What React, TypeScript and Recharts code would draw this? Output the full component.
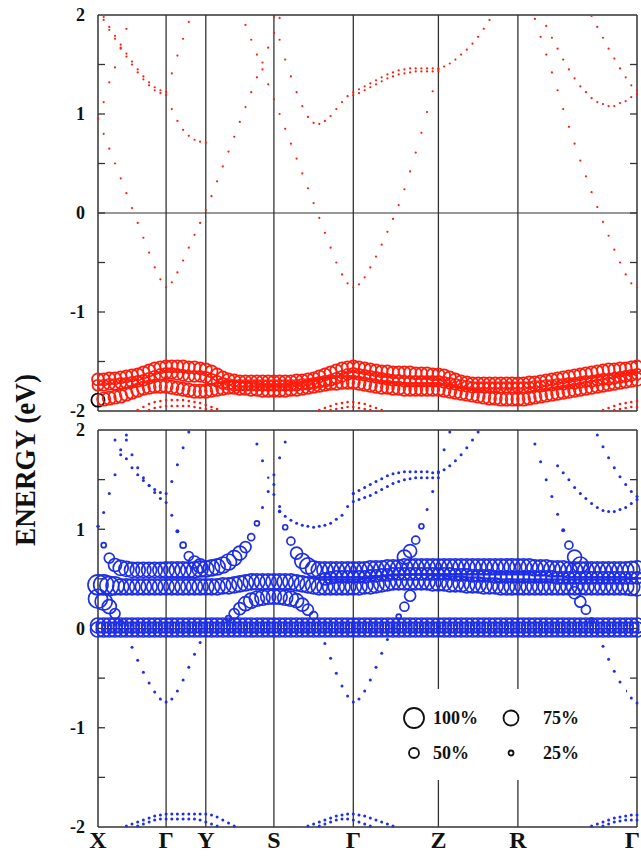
import React from "react";
import { ScatterChart, Scatter, XAxis, YAxis, ReferenceLine } from "recharts";

// k-path distance of each computed k-point (96 points, X -> Γ -> Y -> S -> Γ -> Z -> R -> Γ)
const K_PATH = [
  0, 0.057, 0.113, 0.17, 0.227, 0.284, 0.34, 0.397, 0.454, 0.511, 0.567, 0.624,
  0.681, 0.738, 0.794, 0.851, 0.908, 0.965, 1.021, 1.078,
  1.135, 1.191, 1.248, 1.305, 1.362, 1.418, 1.475, 1.532, 1.589, 1.645, 1.702, 1.759,
  1.816, 1.872, 1.929, 1.986, 2.043, 2.099, 2.156, 2.213, 2.269, 2.326, 2.383, 2.44, 2.496, 2.553,
  2.61, 2.667, 2.723, 2.78, 2.837, 2.894, 2.95, 3.007, 3.064, 3.121, 3.177, 3.234, 3.291, 3.347, 3.404,
  3.461, 3.518, 3.574, 3.631, 3.688, 3.745, 3.801, 3.858, 3.915, 3.972, 4.028, 4.085, 4.142, 4.199,
  4.255, 4.312, 4.369, 4.426, 4.482, 4.539, 4.596, 4.652, 4.709, 4.766, 4.823, 4.879, 4.936, 4.993,
  5.05, 5.106, 5.163, 5.22, 5.277, 5.333, 5.39,
];
const SYM_K = [0, 0.681, 1.078, 1.759, 2.553, 3.404, 4.199, 5.39];
const SYM_LABELS = ["X", "Γ", "Y", "S", "Γ", "Z", "R", "Γ"];
const E_TICKS = [-2, -1, 0, 1, 2];
const E_MINOR = [-1.5, -1, -0.5, 0, 0.5, 1, 1.5];
const LEGEND_ITEMS = [
  { w: 100, label: "100%" },
  { w: 75, label: "75%" },
  { w: 50, label: "50%" },
  { w: 25, label: "25%" },
];

type Band = { id: string; start: number; e: number[]; w: number | number[] };

// ---------- upper panel (red) ----------
const RED_BANDS: Band[] = [
  { id: "RF1", start: 0, w: 60, e: [
    -1.68, -1.68, -1.67, -1.67, -1.66, -1.65, -1.64, -1.63, -1.61, -1.59, -1.57, -1.56,
    -1.55, -1.55, -1.55, -1.55, -1.56, -1.56, -1.57, -1.58,
    -1.6, -1.63, -1.66, -1.68, -1.69, -1.7, -1.7, -1.7, -1.7, -1.7, -1.7, -1.7,
    -1.7, -1.7, -1.7, -1.69, -1.69, -1.68, -1.67, -1.65, -1.63, -1.61, -1.59, -1.57, -1.56, -1.55,
    -1.56, -1.57, -1.58, -1.59, -1.6, -1.6, -1.61, -1.61, -1.61, -1.61, -1.62, -1.62, -1.62, -1.63, -1.63,
    -1.64, -1.66, -1.68, -1.7, -1.71, -1.72, -1.72, -1.72, -1.72, -1.72, -1.72, -1.72, -1.72, -1.72,
    -1.72, -1.71, -1.71, -1.7, -1.69, -1.68, -1.67, -1.66, -1.65, -1.64, -1.63, -1.62, -1.61, -1.6, -1.59, -1.58, -1.58, -1.57, -1.57, -1.56, -1.55,
  ] },
  { id: "RF2", start: 0, w: 55, e: [
    -1.74, -1.74, -1.73, -1.73, -1.72, -1.72, -1.71, -1.7, -1.69, -1.67, -1.65, -1.63,
    -1.62, -1.62, -1.63, -1.64, -1.65, -1.65, -1.65, -1.66,
    -1.68, -1.7, -1.72, -1.73, -1.74, -1.74, -1.74, -1.74, -1.74, -1.74, -1.74, -1.74,
    -1.74, -1.74, -1.74, -1.74, -1.73, -1.73, -1.72, -1.71, -1.7, -1.69, -1.67, -1.65, -1.63, -1.62,
    -1.63, -1.64, -1.65, -1.66, -1.67, -1.68, -1.69, -1.69, -1.7, -1.7, -1.7, -1.7, -1.7, -1.7, -1.7,
    -1.71, -1.72, -1.73, -1.74, -1.75, -1.76, -1.76, -1.76, -1.76, -1.76, -1.76, -1.76, -1.76, -1.76,
    -1.76, -1.76, -1.75, -1.75, -1.74, -1.74, -1.73, -1.73, -1.72, -1.72, -1.71, -1.7, -1.7, -1.69, -1.68, -1.68, -1.67, -1.66, -1.65, -1.64, -1.63,
  ] },
  { id: "RF3", start: 0, w: 66, e: [
    -1.89, -1.88, -1.87, -1.86, -1.85, -1.83, -1.81, -1.79, -1.77, -1.76, -1.75, -1.75,
    -1.75, -1.76, -1.77, -1.78, -1.79, -1.8, -1.8, -1.8,
    -1.79, -1.78, -1.77, -1.76, -1.76, -1.77, -1.77, -1.78, -1.78, -1.79, -1.79, -1.79,
    -1.79, -1.79, -1.78, -1.78, -1.77, -1.76, -1.75, -1.74, -1.73, -1.72, -1.72, -1.71, -1.71, -1.71,
    -1.72, -1.73, -1.74, -1.75, -1.76, -1.76, -1.77, -1.77, -1.78, -1.78, -1.78, -1.78, -1.78, -1.78, -1.78,
    -1.79, -1.8, -1.81, -1.82, -1.83, -1.84, -1.85, -1.86, -1.87, -1.87, -1.88, -1.88, -1.88, -1.88,
    -1.88, -1.87, -1.86, -1.85, -1.84, -1.83, -1.82, -1.81, -1.8, -1.79, -1.78, -1.77, -1.76, -1.75, -1.74, -1.73, -1.72, -1.71, -1.7, -1.69, -1.68,
  ] },
  { id: "T_A1", start: 1, w: 11, e: [1.98, 1.88, 1.79, 1.7, 1.61, 1.53, 1.45, 1.38, 1.32, 1.27, 1.24, 1.22, 1.41, 1.59, 1.76, 1.93] },
  { id: "T_A2", start: 1, w: 11, e: [1.95, 1.85, 1.76, 1.67, 1.58, 1.5, 1.42, 1.35, 1.29, 1.24, 1.21, 1.19, 1.05, 0.93, 0.84, 0.78, 0.74, 0.72, 0.71] },
  { id: "T_B", start: 0, w: 11, e: [0.95, 1.12, 1.32, 1.47, 1.66, 1.86] },
  { id: "T_C", start: 0, w: 11, e: [
    0.95, 0.8, 0.65, 0.5, 0.35, 0.2, 0.05, -0.1, -0.25, -0.4, -0.55, -0.67, -0.75,
    -0.7, -0.6, -0.48, -0.35, -0.22, -0.1, 0.03, 0.17, 0.32, 0.47, 0.62, 0.77, 0.92, 1.07, 1.22, 1.37, 1.52, 1.67, 1.82, 1.97,
  ] },
  { id: "T_D", start: 26, w: 11, e: [
    1.9, 1.75, 1.6, 1.45, 1.3, 1.15, 1.0, 0.85, 0.7, 0.55, 0.4, 0.25, 0.1, -0.05, -0.2, -0.35, -0.5, -0.62, -0.71, -0.75,
    -0.72, -0.65, -0.55, -0.44, -0.32, -0.19, -0.06, 0.08, 0.24, 0.42, 0.61, 0.81, 1.02, 1.23, 1.45,
    1.48, 1.51, 1.55, 1.6, 1.65, 1.71, 1.78, 1.86, 1.95,
  ] },
  { id: "T_F", start: 31, w: 11, e: [
    1.98, 1.75, 1.55, 1.38, 1.22, 1.08, 0.97, 0.91, 0.9, 0.93, 0.98, 1.05, 1.12, 1.18, 1.22,
    1.25, 1.28, 1.31, 1.34, 1.37, 1.4, 1.42, 1.44, 1.45, 1.46, 1.46, 1.46, 1.46, 1.46, 1.46,
  ] },
  { id: "T_E2", start: 45, w: 11, e: [1.19, 1.21, 1.24, 1.27, 1.3, 1.33, 1.36, 1.38, 1.4, 1.41, 1.42, 1.43, 1.43, 1.43, 1.43, 1.43] },
  { id: "T_H", start: 77, w: 11, e: [1.96, 1.78, 1.6, 1.42, 1.24, 1.05, 0.87, 0.7, 0.53, 0.37, 0.21, 0.06, -0.09, -0.23, -0.37, -0.5, -0.62, -0.71, -0.75] },
  { id: "T_I", start: 79, w: 11, e: [1.89, 1.77, 1.66, 1.55, 1.45, 1.36, 1.28, 1.22, 1.16, 1.12, 1.1, 1.08, 1.08, 1.11, 1.13, 1.17, 1.2] },
  { id: "T_J", start: 87, w: 11, e: [1.99, 1.88, 1.77, 1.66, 1.56, 1.46, 1.37, 1.29, 1.24] },
  { id: "H1a", start: 7, w: 13, e: [-1.99, -1.96, -1.93, -1.91, -1.9, -1.89, -1.89, -1.89, -1.89, -1.9, -1.91, -1.92, -1.94, -1.96, -1.98] },
  { id: "H1b", start: 9, w: 13, e: [-1.99, -1.97, -1.96, -1.95, -1.95, -1.95, -1.95, -1.95, -1.96, -1.97, -1.98, -1.99] },
  { id: "H2a", start: 39, w: 13, e: [-1.99, -1.97, -1.95, -1.93, -1.92, -1.91, -1.91, -1.92, -1.93, -1.95, -1.97, -1.99] },
  { id: "H2b", start: 41, w: 13, e: [-1.99, -1.98, -1.97, -1.96, -1.96, -1.97, -1.98, -1.99] },
  { id: "H3a", start: 89, w: 13, e: [-1.99, -1.97, -1.95, -1.93, -1.92, -1.91, -1.9] },
  { id: "H3b", start: 91, w: 13, e: [-1.99, -1.98, -1.97, -1.96, -1.96] },
];

// ---------- lower panel (blue) ----------
const BLUE_BANDS: Band[] = [
  { id: "B_0a", start: 0, w: 75, e: [
    0.03, 0.03, 0.03, 0.03, 0.03, 0.03, 0.03, 0.03, 0.03, 0.03, 0.03, 0.03,
    0.03, 0.03, 0.03, 0.03, 0.03, 0.03, 0.03, 0.03,
    0.03, 0.03, 0.03, 0.03, 0.03, 0.03, 0.03, 0.03, 0.03, 0.03, 0.03, 0.03,
    0.03, 0.03, 0.03, 0.03, 0.03, 0.03, 0.03, 0.03, 0.03, 0.03, 0.03, 0.03, 0.03, 0.03,
    0.03, 0.03, 0.03, 0.03, 0.03, 0.03, 0.03, 0.03, 0.03, 0.03, 0.03, 0.03, 0.03, 0.03, 0.03,
    0.03, 0.03, 0.03, 0.03, 0.03, 0.03, 0.03, 0.03, 0.03, 0.03, 0.03, 0.03, 0.03, 0.03,
    0.03, 0.03, 0.03, 0.03, 0.03, 0.03, 0.03, 0.03, 0.03, 0.03, 0.03, 0.03, 0.03, 0.03, 0.03, 0.03, 0.03, 0.03, 0.03, 0.03, 0.03,
  ] },
  { id: "B_0b", start: 0, w: 75, e: [
    -0.01, -0.01, -0.01, -0.01, -0.01, -0.01, -0.01, -0.01, -0.01, -0.01, -0.01, -0.01,
    -0.01, -0.01, -0.01, -0.01, -0.01, -0.01, -0.01, -0.01,
    -0.01, -0.01, -0.01, -0.01, -0.01, -0.01, -0.01, -0.01, -0.01, -0.01, -0.01, -0.01,
    -0.01, -0.01, -0.01, -0.01, -0.01, -0.01, -0.01, -0.01, -0.01, -0.01, -0.01, -0.01, -0.01, -0.01,
    -0.01, -0.01, -0.01, -0.01, -0.01, -0.01, -0.01, -0.01, -0.01, -0.01, -0.01, -0.01, -0.01, -0.01, -0.01,
    -0.01, -0.01, -0.01, -0.01, -0.01, -0.01, -0.01, -0.01, -0.01, -0.01, -0.01, -0.01, -0.01, -0.01,
    -0.01, -0.01, -0.01, -0.01, -0.01, -0.01, -0.01, -0.01, -0.01, -0.01, -0.01, -0.01, -0.01, -0.01, -0.01, -0.01, -0.01, -0.01, -0.01, -0.01, -0.01,
  ] },
  { id: "B_L", start: 0, e: [
    0.44, 0.44, 0.43, 0.43, 0.42, 0.42, 0.42, 0.42, 0.42, 0.42, 0.42, 0.42,
    0.42, 0.42, 0.42, 0.42, 0.42, 0.42, 0.42, 0.42,
    0.42, 0.42, 0.43, 0.43, 0.44, 0.45, 0.46, 0.47, 0.47, 0.47, 0.47, 0.47,
    0.47, 0.47, 0.47, 0.46, 0.45, 0.44, 0.43, 0.42, 0.42, 0.42, 0.42, 0.42, 0.42, 0.42,
    0.42, 0.43, 0.43, 0.44, 0.45, 0.46, 0.47, 0.47, 0.47, 0.47, 0.47, 0.47, 0.47, 0.46, 0.46,
    0.46, 0.45, 0.45, 0.45, 0.44, 0.44, 0.44, 0.43, 0.43, 0.43, 0.42, 0.42, 0.42, 0.42,
    0.42, 0.42, 0.42, 0.42, 0.42, 0.42, 0.42, 0.42, 0.42, 0.42, 0.42, 0.42, 0.42, 0.42, 0.42, 0.42, 0.42, 0.42, 0.42, 0.42, 0.42,
  ], w: [
    100, 100, 95, 90, 80, 80, 80, 80, 80, 80, 80, 80,
    80, 80, 80, 80, 80, 80, 80, 80,
    80, 80, 80, 80, 80, 80, 80, 80, 80, 80, 80, 80,
    80, 80, 80, 80, 80, 80, 80, 80, 80, 80, 80, 80, 80, 80,
    80, 80, 80, 80, 80, 80, 80, 80, 80, 80, 80, 80, 80, 80, 80,
    80, 80, 80, 80, 80, 80, 80, 80, 80, 80, 80, 80, 80, 80,
    80, 80, 80, 80, 80, 80, 80, 80, 80, 80, 80, 80, 80, 80, 80, 80, 80, 80, 80, 85, 90,
  ] },
  { id: "B_M", start: 40, w: 60, e: [
    0.5, 0.51, 0.52, 0.52, 0.52, 0.52,
    0.52, 0.52, 0.53, 0.53, 0.54, 0.54, 0.55, 0.55, 0.55, 0.55, 0.55, 0.55, 0.55, 0.55, 0.55,
    0.55, 0.55, 0.54, 0.54, 0.54, 0.53, 0.53, 0.53, 0.53, 0.52, 0.52, 0.52, 0.52, 0.52,
    0.52, 0.52, 0.52, 0.52, 0.52, 0.52, 0.51, 0.51, 0.51, 0.51, 0.51, 0.51, 0.51, 0.51, 0.51, 0.51, 0.51, 0.51, 0.51, 0.51, 0.51,
  ] },
  { id: "B_X", start: 0, e: [
    1.03, 0.84, 0.71, 0.64, 0.61, 0.6, 0.59, 0.59, 0.59, 0.59, 0.59, 0.59,
    0.59, 0.59, 0.59, 0.59, 0.59, 0.59, 0.6, 0.6,
    0.61, 0.62, 0.64, 0.67, 0.71, 0.76, 0.82, 0.92, 1.06, 1.22, 1.38, 1.55, 1.72, 1.88,
  ], w: [
    15, 25, 50, 65, 75, 75, 75, 75, 75, 75, 75, 75,
    80, 80, 80, 80, 80, 80, 80, 80,
    80, 80, 80, 80, 75, 70, 55, 35, 25, 15, 15, 15, 15, 15,
  ] },
  { id: "B_U2", start: 28, e: [
    1.86, 1.69,
    1.52, 1.35, 1.18, 1.02, 0.88, 0.76, 0.68, 0.63, 0.6, 0.59, 0.59, 0.59, 0.59, 0.59, 0.59, 0.59,
    0.59, 0.59, 0.6, 0.6, 0.6, 0.61, 0.61, 0.61, 0.62, 0.62, 0.62, 0.62, 0.62, 0.62, 0.62,
    0.62, 0.62, 0.62, 0.62, 0.62, 0.62, 0.62, 0.62, 0.62, 0.62, 0.62, 0.62, 0.62, 0.62,
    0.62, 0.62, 0.61, 0.61, 0.61, 0.6, 0.6, 0.6, 0.59, 0.59, 0.59, 0.59, 0.59, 0.59, 0.59, 0.59, 0.59, 0.59, 0.59, 0.59, 0.59,
  ], w: [
    15, 15,
    12, 15, 18, 25, 40, 60, 75, 80, 80, 80, 80, 80, 80, 80, 80, 80,
    80, 80, 80, 80, 80, 80, 80, 80, 80, 80, 80, 80, 80, 80, 80,
    80, 80, 80, 80, 80, 80, 80, 80, 80, 80, 80, 80, 80, 80,
    80, 80, 80, 80, 80, 80, 80, 80, 80, 80, 80, 80, 80, 80, 80, 80, 80, 80, 80, 85, 90,
  ] },
  { id: "B_U", start: 5, e: [1.9, 1.75, 1.62, 1.52, 1.44, 1.37, 1.31, 1.27, 1.14, 0.98, 0.84, 0.73, 0.67, 0.63],
    w: [15, 15, 15, 15, 15, 15, 15, 15, 15, 20, 30, 45, 60, 70] },
  { id: "B_G1", start: 0, e: [
    0.3, 0.27, 0.22, 0.15, 0.06, -0.06, -0.19, -0.32, -0.44, -0.55, -0.64, -0.71, -0.74,
    -0.71, -0.63, -0.52, -0.39, -0.26, -0.14, -0.04,
  ], w: [95, 85, 70, 50, 25, 15, 15, 15, 15, 15, 15, 15, 15, 15, 15, 15, 15, 15, 15, 15] },
  { id: "B_arc", start: 23, e: [0.1, 0.15, 0.2, 0.25, 0.28, 0.3, 0.31, 0.32, 0.32, 0.32, 0.31, 0.3, 0.28, 0.24, 0.19, 0.13],
    w: [30, 50, 60, 70, 75, 75, 75, 75, 75, 75, 75, 75, 70, 65, 55, 40] },
  { id: "B_G2", start: 39, e: [-0.01, -0.15, -0.3, -0.45, -0.58, -0.68, -0.74, -0.71, -0.63, -0.52, -0.39, -0.25, -0.11, 0.02, 0.12, 0.22, 0.33],
    w: [15, 15, 15, 15, 15, 15, 15, 15, 15, 15, 15, 15, 15, 15, 25, 45, 55] },
  { id: "B_G2up", start: 54, e: [0.72, 0.78, 0.89, 1.03, 1.2, 1.38, 1.58, 1.8, 1.98], w: [70, 65, 40, 25, 15, 15, 15, 15, 15] },
  { id: "B_US", start: 31, w: 15, e: [1.45, 1.23, 1.13, 1.09, 1.06, 1.04, 1.03, 1.02, 1.03, 1.04, 1.06, 1.1, 1.14, 1.23, 1.36] },
  { id: "B_E", start: 45, w: 15, e: [1.36, 1.39, 1.42, 1.45, 1.48, 1.51, 1.54, 1.56, 1.57, 1.58, 1.58, 1.58, 1.58, 1.58, 1.57, 1.57, 1.6, 1.64, 1.69, 1.75, 1.82, 1.9, 1.98] },
  { id: "B_E2", start: 45, w: 15, e: [1.28, 1.3, 1.32, 1.34, 1.37, 1.4, 1.43, 1.46, 1.48, 1.5, 1.51, 1.52, 1.52, 1.52, 1.52, 1.52] },
  { id: "B_A", start: 3, w: 15, e: [1.9, 1.8, 1.71, 1.62, 1.55, 1.49, 1.44, 1.4, 1.37, 1.36, 1.48, 1.65, 1.82, 1.98] },
  { id: "B_SX", start: 0, w: 15, e: [1.03, 1.17, 1.36, 1.55, 1.75, 1.95] },
  { id: "B_G3up", start: 77, e: [1.86, 1.68, 1.5, 1.33, 1.15, 0.99, 0.84, 0.72, 0.64], w: [15, 15, 15, 15, 15, 20, 40, 70, 80] },
  { id: "B_G3low", start: 84, e: [0.36, 0.27, 0.19, 0.08, -0.05, -0.18, -0.31, -0.43, -0.54, -0.63, -0.7, -0.75],
    w: [60, 55, 45, 25, 15, 15, 15, 15, 15, 15, 15, 15] },
  { id: "B_I", start: 81, w: 15, e: [1.64, 1.57, 1.5, 1.42, 1.36, 1.31, 1.26, 1.22, 1.19, 1.18, 1.18, 1.2, 1.22, 1.26, 1.3] },
  { id: "B_J", start: 88, w: 15, e: [1.95, 1.83, 1.72, 1.62, 1.53, 1.45, 1.38, 1.33] },
  { id: "B_H1a", start: 5, w: 15, e: [-1.99, -1.97, -1.95, -1.93, -1.91, -1.89, -1.88, -1.87, -1.87, -1.87, -1.87, -1.87, -1.87, -1.87, -1.87, -1.88, -1.9, -1.93, -1.96, -1.99] },
  { id: "B_H1b", start: 7, w: 15, e: [-1.99, -1.97, -1.95, -1.93, -1.92, -1.92, -1.92, -1.92, -1.92, -1.92, -1.92, -1.93, -1.95, -1.97, -1.99] },
  { id: "B_H2a", start: 37, w: 15, e: [-1.99, -1.97, -1.95, -1.93, -1.91, -1.89, -1.88, -1.87, -1.87, -1.88, -1.89, -1.91, -1.93, -1.95, -1.97, -1.99] },
  { id: "B_H2b", start: 39, w: 15, e: [-1.99, -1.97, -1.95, -1.93, -1.92, -1.92, -1.93, -1.95, -1.97, -1.99] },
  { id: "B_H3a", start: 87, w: 15, e: [-1.99, -1.97, -1.95, -1.93, -1.91, -1.9, -1.89, -1.88, -1.88] },
  { id: "B_H3b", start: 89, w: 15, e: [-1.99, -1.97, -1.95, -1.94, -1.93, -1.93, -1.93] },
];

const RED = "#ff1c0c";
const BLUE = "#1e2ee4";
const FRAME = "#333";
const FONT = "'Liberation Serif', 'Times New Roman', serif";

function toPoints(b: Band) {
  return b.e.map((e, i) => ({
    k: K_PATH[b.start + i],
    e,
    w: Array.isArray(b.w) ? b.w[i] : b.w,
    idx: b.start + i,
  }));
}

const makeShape = (color: string, id: string) => (props: any) => {
  const { cx, cy, payload } = props;
  if (cx == null || cy == null) return <g />;
  const r = payload.w / 10;
  if (r < 2.2) return <circle cx={cx} cy={cy} r={r} fill={color} />;
  const stroke = id === "RF3" && payload.idx === 0 ? "#000" : color;
  return <circle cx={cx} cy={cy} r={r} fill="none" stroke={stroke} strokeWidth={1.7} />;
};

function frameLines() {
  const out: React.ReactNode[] = [];
  SYM_K.slice(1, -1).forEach((k, i) => out.push(
    <ReferenceLine key={"v" + i} x={k} stroke={FRAME} strokeWidth={1.3} />
  ));
  out.push(<ReferenceLine key="top" y={2} stroke={FRAME} strokeWidth={1.5} />);
  out.push(<ReferenceLine key="right" x={5.39} stroke={FRAME} strokeWidth={1.5} />);
  E_MINOR.forEach((v, i) => {
    out.push(<ReferenceLine key={"tl" + i} segment={[{ x: 0, y: v }, { x: 0.07, y: v }]} stroke={FRAME} strokeWidth={1.3} />);
    out.push(<ReferenceLine key={"tr" + i} segment={[{ x: 5.32, y: v }, { x: 5.39, y: v }]} stroke={FRAME} strokeWidth={1.3} />);
  });
  return out;
}

const tickStyle = { fontFamily: FONT, fontWeight: 700, fontSize: 18, fill: "#111" };

const KTick = (props: any) => {
  const { x, y, payload } = props;
  const i = SYM_K.indexOf(payload.value);
  const label = SYM_LABELS[i] ?? "";
  const last = i === SYM_K.length - 1;
  return (
    <text x={last ? x + 3 : x} y={y} dy={13} textAnchor={last ? "end" : "middle"} fontFamily={FONT} fontWeight={700} fontSize={24} fill="#111">
      {label}
    </text>
  );
};

function Panel({ bands, color, height, margin, bottom }: {
  bands: Band[]; color: string; height: number; margin: any; bottom: boolean;
}) {
  return (
    <ScatterChart width={641} height={height} margin={margin}>
      <XAxis
        type="number"
        dataKey="k"
        domain={[0, 5.39]}
        ticks={SYM_K}
        interval={0}
        hide={!bottom}
        height={29}
        tickLine={false}
        axisLine={{ stroke: FRAME, strokeWidth: 1.5 }}
        tick={<KTick />}
      />
      <YAxis
        type="number"
        dataKey="e"
        domain={[-2, 2]}
        ticks={E_TICKS}
        interval={0}
        width={98}
        tickLine={false}
        tickSize={6}
        tickMargin={7}
        axisLine={{ stroke: FRAME, strokeWidth: 1.5 }}
        tick={tickStyle}
      />
      {frameLines()}
      {!bottom && <ReferenceLine y={-2} stroke={FRAME} strokeWidth={1.5} />}
      <ReferenceLine y={0} stroke={FRAME} strokeWidth={1} />
      {bands.map((b) => (
        <Scatter
          key={b.id}
          name={b.id}
          data={toPoints(b)}
          shape={makeShape(color, b.id)}
          isAnimationActive={false}
        />
      ))}
    </ScatterChart>
  );
}

export default function App() {
  return (
    <div style={{ position: "absolute", left: 0, top: 0, width: 641, height: 856, background: "#fff", overflow: "hidden" }}>
      <div style={{ position: "absolute", left: 0, top: 0 }}>
        <Panel bands={RED_BANDS} color={RED} height={430} margin={{ top: 15, right: 4, bottom: 19, left: 0 }} bottom={false} />
      </div>
      <div style={{ position: "absolute", left: 0, top: 412 }}>
        <Panel bands={BLUE_BANDS} color={BLUE} height={444} margin={{ top: 18, right: 4, bottom: 0, left: 0 }} bottom={true} />
      </div>
      <svg width={641} height={856} style={{ position: "absolute", left: 0, top: 0, pointerEvents: "none" }}>
        <text
          transform="translate(35,460) rotate(-90)"
          textAnchor="middle"
          fontFamily={FONT}
          fontWeight={700}
          fontSize={30}
          textLength={172}
          lengthAdjust="spacingAndGlyphs"
          fill="#111"
        >
          ENERGY (eV)
        </text>
        <rect x={396} y={689} width={230} height={91} fill="#fff" />
        {LEGEND_ITEMS.map((it, i) => {
          const col = i % 2;
          const row = Math.floor(i / 2);
          const cx = col === 0 ? 414 : 511;
          const cy = row === 0 ? 718 : 753;
          return (
            <g key={it.label}>
              <circle cx={cx} cy={cy} r={it.w / 10} fill="none" stroke="#111" strokeWidth={1.8} />
              <text x={col === 0 ? 433 : 543} y={cy + 6} fontFamily={FONT} fontWeight={700} fontSize={18} fill="#111">
                {it.label}
              </text>
            </g>
          );
        })}
      </svg>
    </div>
  );
}
